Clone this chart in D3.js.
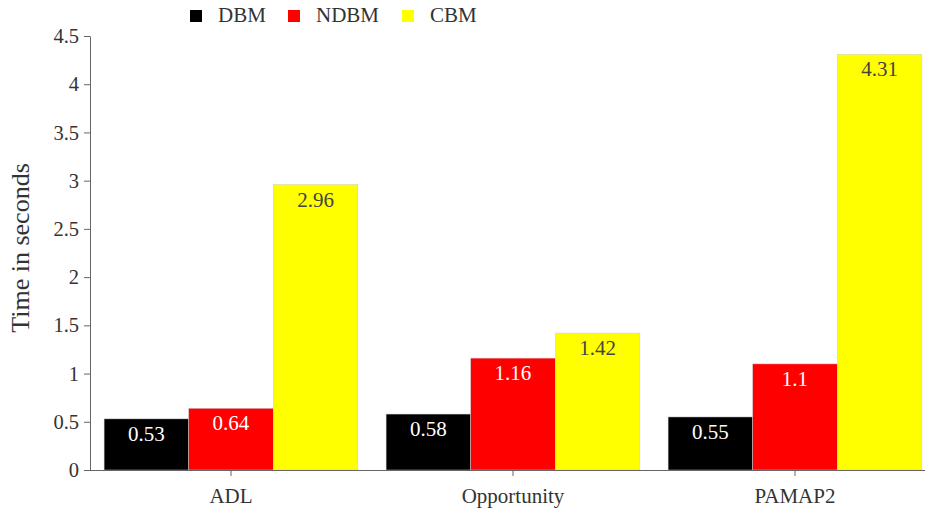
<!DOCTYPE html>
<html><head><meta charset="utf-8">
<script src="https://cdn.jsdelivr.net/npm/d3@7"></script>
<style>body{margin:0;background:#fff}svg text{font-family:"Liberation Serif","Times New Roman","DejaVu Serif",serif !important}</style>
</head><body>
<svg id="c" width="925" height="510"></svg>
<script>
const categories = ["ADL", "Opportunity", "PAMAP2"];
const seriesNames = ["DBM", "NDBM", "CBM"];
const seriesColors = ["#000000", "#ff0000", "#ffff00"];
const labelColors = ["#ffffff", "#ffffff", "#444444"];
const dbm = [0.53, 0.58, 0.55];
const ndbm = [0.64, 1.16, 1.1];
const cbm = [2.96, 1.42, 4.31];
const yTicks = [0, 0.5, 1, 1.5, 2, 2.5, 3, 3.5, 4, 4.5];

(function () {
const series = [dbm, ndbm, cbm];
const svg = d3.select("#c");
const mLeft = 90, mRight = 936, mTop = 36, mBottom = 470;

const y = d3.scaleLinear().domain([0, 4.5]).range([mBottom, mTop]);
const x0 = d3.scaleBand().domain(categories).range([mLeft, mRight]).paddingInner(0.1).paddingOuter(0.05);
const x1 = d3.scaleBand().domain(seriesNames).range([0, x0.bandwidth()]);

// bars
categories.forEach((c, ci) => {
  const g = svg.append("g").attr("transform", `translate(${x0(c)},0)`);
  seriesNames.forEach((s, si) => {
    const v = series[si][ci];
    g.append("rect")
      .attr("x", x1(s)).attr("y", y(v))
      .attr("width", x1.bandwidth()).attr("height", y(0) - y(v))
      .attr("fill", seriesColors[si])
      .attr("stroke", "#cccccc").attr("stroke-width", 0.5);
    g.append("text")
      .attr("x", x1(s) + x1.bandwidth() / 2).attr("y", y(v) + 22)
      .attr("text-anchor", "middle").attr("font-size", 21)
      .attr("fill", labelColors[si]).text(String(v));
  });
});

// y axis
const ya = svg.append("g").attr("transform", `translate(${mLeft},0)`)
  .call(d3.axisLeft(y).tickValues(yTicks).tickFormat(d => String(d)).tickSize(6).tickPadding(5).tickSizeOuter(0));
ya.select(".domain").attr("stroke", "#666");
ya.selectAll(".tick line").attr("stroke", "#666");
ya.selectAll(".tick text").attr("font-size", 20.5).attr("fill", "#333");

// x axis
const xa = svg.append("g").attr("transform", `translate(0,${mBottom})`)
  .call(d3.axisBottom(x0).tickSize(6).tickSizeOuter(0));
xa.select(".domain").attr("stroke", "#666").attr("d", `M${mLeft},0.5H925`);
xa.selectAll(".tick line").attr("stroke", "#666");
xa.selectAll(".tick text").attr("font-size", 21).attr("fill", "#333").attr("y", 33).attr("dy", "0");

// y title
svg.append("text").attr("transform", `translate(29,248) rotate(-90)`)
  .attr("text-anchor", "middle").attr("font-size", 26).attr("fill", "#333").text("Time in seconds");

// legend
const legX = [190, 288, 402];
seriesNames.forEach((s, i) => {
  svg.append("rect").attr("x", legX[i]).attr("y", 10).attr("width", 12).attr("height", 12).attr("fill", seriesColors[i]);
  svg.append("text").attr("x", legX[i] + 28).attr("y", 22).attr("font-size", 21).attr("fill", "#333").text(s);
});
})();
</script>
</body></html>
